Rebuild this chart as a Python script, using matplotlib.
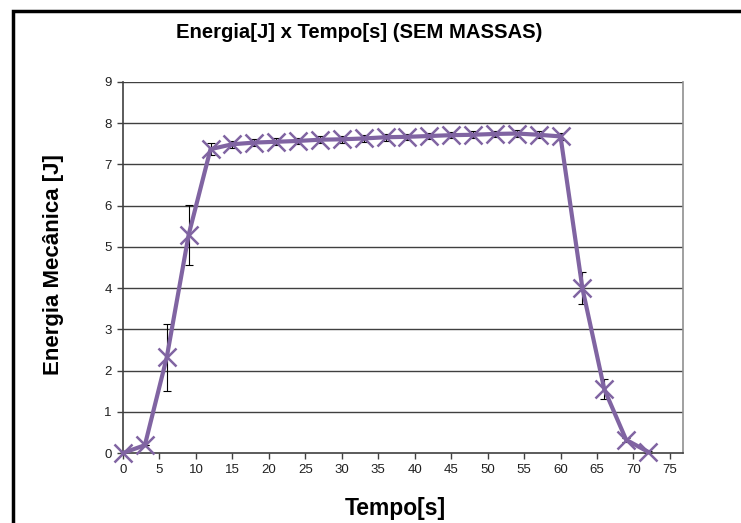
import matplotlib
matplotlib.use("Agg")
import matplotlib.pyplot as plt
from matplotlib.patches import Rectangle

tempo = [0, 3, 6, 9, 12, 15, 18, 21, 24, 27, 30, 33, 36, 39, 42, 45, 48, 51, 54, 57, 60, 63, 66, 69, 72]
energia = [0.0, 0.19, 2.32, 5.29, 7.37, 7.49, 7.53, 7.55, 7.57, 7.60, 7.61, 7.63, 7.66, 7.67, 7.69, 7.71, 7.72, 7.74, 7.75, 7.72, 7.68, 4.0, 1.55, 0.32, 0.03]
erro = [0.0, 0.0, 0.81, 0.73, 0.15, 0.09, 0.08, 0.08, 0.08, 0.08, 0.08, 0.08, 0.08, 0.08, 0.08, 0.08, 0.08, 0.08, 0.08, 0.08, 0.08, 0.39, 0.25, 0.05, 0.03]
xticks = list(range(0, 80, 5))
yticks = list(range(0, 10))

plt.rcParams['font.family'] = ['Liberation Sans', 'DejaVu Sans']

fig = plt.figure(figsize=(7.41, 5.23), dpi=100)
W, H = 741, 523
ax = fig.add_axes([123 / W, (H - 453) / H, (683 - 123) / W, (453 - 82) / H])

for y in yticks[1:]:
    ax.axhline(y, color='#404040', lw=1.0, zorder=1)

ax.errorbar(tempo, energia, yerr=erro, fmt='none', ecolor='black', elinewidth=0.8,
            capsize=3, capthick=0.8, zorder=2)
ax.plot(tempo, energia, color='#8064A2', lw=3, marker='x', markersize=13.5,
        markeredgewidth=1.8, zorder=3, clip_on=False)

ax.set_xlim(0, 76.8)
ax.set_ylim(0, 9)
ax.set_xticks(xticks)
ax.set_yticks(yticks)
ax.tick_params(axis='both', direction='out', length=4, width=1, colors='#404040',
               labelsize=9.5, labelcolor='#202020', pad=4)
for s in ['left', 'bottom']:
    ax.spines[s].set_color('#404040')
    ax.spines[s].set_linewidth(1.2)
ax.spines['right'].set_color('#909090')
ax.spines['right'].set_linewidth(1.2)
ax.spines['top'].set_visible(False)

fig.text(359 / W, 1 - 33 / H, 'Energia[J] x Tempo[s] (SEM MASSAS)', ha='center', va='center',
         fontsize=14.6, fontweight='bold')
fig.text(54 / W, 1 - 265 / H, 'Energia Mecânica [J]', ha='center', va='center',
         rotation=90, fontsize=16, fontweight='bold')
fig.text(395 / W, 1 - 508 / H, 'Tempo[s]', ha='center', va='center',
         fontsize=16.5, fontweight='bold')

fig.patches.append(Rectangle((13 / W, -0.1), 1.2, 1 - 11 / H + 0.1, transform=fig.transFigure,
                             fill=False, edgecolor='black', lw=2.5, zorder=10))

fig.savefig('out.png', dpi=100)
